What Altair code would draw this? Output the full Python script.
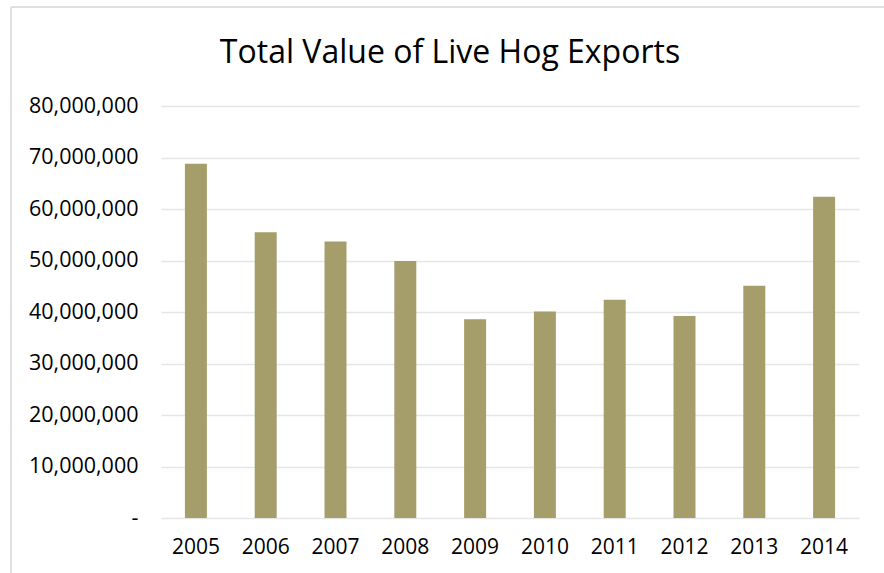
import altair as alt
import pandas as pd

years = ["2005", "2006", "2007", "2008", "2009", "2010", "2011", "2012", "2013", "2014"]
values = [68800000, 55500000, 53700000, 49900000, 38600000, 40100000, 42400000, 39200000, 45100000, 62400000]

df = pd.DataFrame({"Year": years, "Value": values})

FONT = "Open Sans"
BAR = "#A69E6A"
GRID = "#E6E6E6"

bars = alt.Chart(df).mark_bar(color=BAR).encode(
    x=alt.X(
        "Year:N",
        sort=years,
        scale=alt.Scale(paddingInner=0.685, paddingOuter=0.3425),
        axis=alt.Axis(
            title=None, labelAngle=0, ticks=False, domain=False,
            labelFont=FONT, labelFontSize=21, labelColor="#000000",
            labelPadding=18,
        ),
    ),
    y=alt.Y(
        "Value:Q",
        scale=alt.Scale(domain=[0, 80000000]),
        axis=alt.Axis(
            title=None, values=[0, 10000000, 20000000, 30000000, 40000000,
                                50000000, 60000000, 70000000, 80000000],
            labelExpr="datum.value == 0 ? '-' : format(datum.value, ',')",
            ticks=False, domain=False, gridColor=GRID, gridWidth=1.5,
            labelFont=FONT, labelFontSize=21.5, labelColor="#000000",
            labelPadding=23,
        ),
    ),
)

frame_left = alt.Chart(df).mark_rule(color="#E0E0E0", strokeWidth=1.5).encode(
    x=alt.value(-150), y=alt.value(-99), y2=alt.value(470)
)
frame_top = alt.Chart(df).mark_rule(color="#E0E0E0", strokeWidth=1.5).encode(
    x=alt.value(-150), x2=alt.value(740), y=alt.value(-99)
)

chart = alt.layer(frame_left, frame_top, bars).properties(
    width=698,
    height=412,
    autosize=alt.AutoSizeParams(type="none"),
    padding={"left": 161, "top": 106, "right": 25, "bottom": 55},
    title=alt.TitleParams(
        "Total Value of Live Hog Exports",
        font=FONT, fontSize=32, fontWeight="normal", color="#000000",
        anchor="middle", frame="group", dx=-60, offset=-89,
        baseline="alphabetic",
    ),
).configure(background="white").configure_view(stroke=None)

chart.save("out.html", embed_options={"renderer": "svg", "actions": False})
